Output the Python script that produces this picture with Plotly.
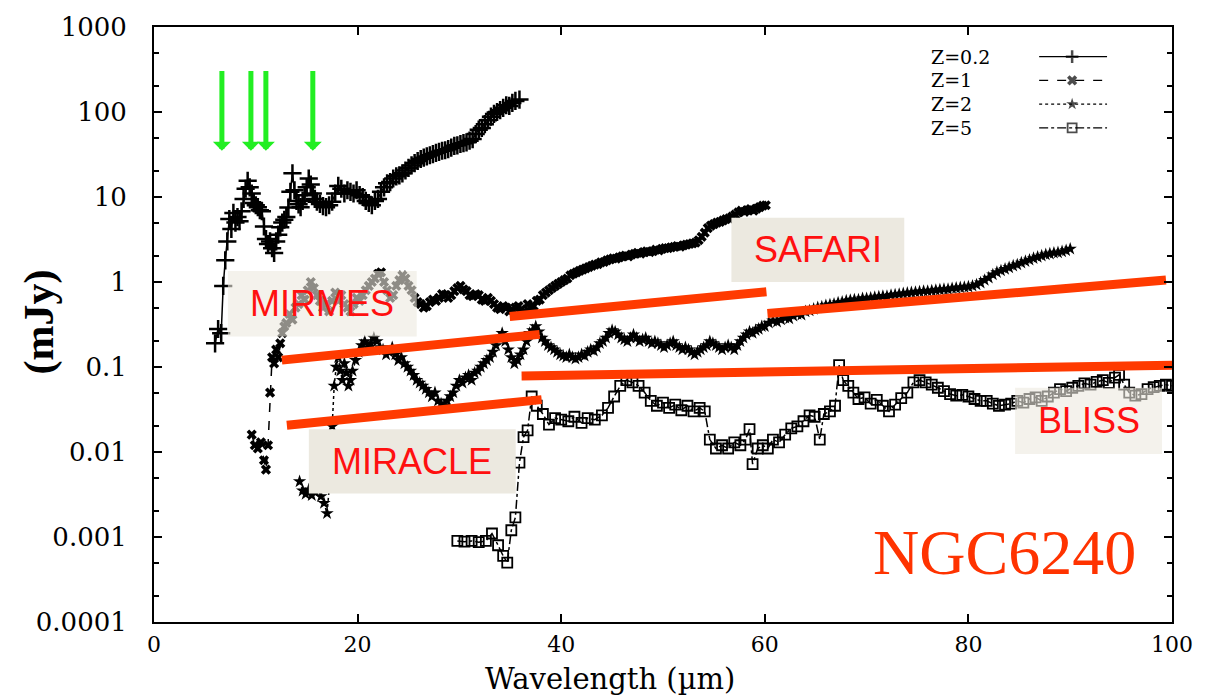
import math
import plotly.graph_objects as go

# ---------------------------------------------------------------------------
# NGC6240 spectrum redshifted to several z (flux density in mJy vs wavelength)
# ---------------------------------------------------------------------------
z02_wl = [6.0, 6.3, 6.6, 6.8, 7.0, 7.2, 7.4, 7.6, 7.8, 8.0, 8.2, 8.4, 8.6, 8.8, 9.0,
          9.2, 9.4, 9.6, 9.8, 10.0, 10.2, 10.4, 10.6, 10.8, 11.0, 11.2, 11.4, 11.6,
          11.8, 12.0, 12.2, 12.4, 12.6, 12.8, 13.0, 13.2, 13.4, 13.6, 13.8, 14.0,
          14.2, 14.4, 14.6, 14.8, 15.0, 15.2, 15.4, 15.6, 15.8, 16.0, 16.3, 16.6,
          16.9, 17.2, 17.5, 17.8, 18.1, 18.4, 18.7, 19.0, 19.3, 19.6, 19.9, 20.2,
          20.5, 20.8, 21.1, 21.4, 21.7, 22.0, 22.3, 22.6, 22.9, 23.2, 23.5, 23.8,
          24.1, 24.4, 24.7, 25.0, 25.3, 25.6, 25.9, 26.2, 26.5, 26.8, 27.1, 27.4,
          27.7, 28.0, 28.3, 28.6, 28.9, 29.2, 29.5, 29.8, 30.1, 30.4, 30.7, 31.0,
          31.3, 31.6, 31.9, 32.2, 32.5, 32.8, 33.1, 33.4, 33.7, 34.0, 34.3, 34.6,
          34.9, 35.2, 35.5, 35.9]
z02_flux = [0.19, 0.28, 0.25, 0.9, 1.8, 3.0, 5.5, 4.2, 6.5, 5.0, 5.8, 5.2, 6.8, 9.5,
            12.5, 15.5, 13.0, 11.0, 8.5, 8.0, 7.6, 7.0, 6.8, 4.5, 3.2, 2.8, 3.0, 2.5,
            2.2, 3.0, 3.6, 4.4, 5.0, 5.4, 5.8, 7.5, 11.5, 19.0, 12.0, 9.0, 8.2, 7.6,
            9.0, 10.5, 13.0, 16.5, 14.0, 11.0, 9.5, 8.8, 8.3, 7.8, 7.6, 8.0, 8.8,
            11.0, 13.5, 12.5, 11.0, 12.0, 11.5, 11.0, 12.0, 10.5, 10.0, 9.0, 8.5,
            8.0, 9.0, 9.5, 11.5, 13.0, 14.5, 15.0, 16.5, 17.5, 18.0, 19.0, 20.5,
            22.0, 23.5, 25.0, 26.5, 28.0, 29.0, 30.0, 31.0, 32.0, 33.0, 34.0, 35.0,
            35.5, 36.5, 38.0, 40.0, 40.5, 42.0, 43.0, 44.0, 46.0, 48.0, 55.0, 62.0,
            65.0, 72.0, 80.0, 88.0, 95.0, 100.0, 105.0, 112.0, 120.0, 118.0, 128.0,
            135.0, 140.0]

z1_wl = [9.6, 9.9, 10.2, 10.5, 10.8, 11.0, 11.2, 11.4, 11.6, 11.8, 12.0, 12.2, 12.4,
         12.6, 12.8, 13.0, 13.3, 13.6, 13.9, 14.2, 14.5, 14.8, 15.1, 15.4, 15.7, 16.0,
         16.3, 16.6, 16.9, 17.2, 17.5, 17.8, 18.1, 18.4, 18.7, 19.0, 19.3, 19.6, 19.9,
         20.2, 20.5, 20.8, 21.1, 21.4, 21.7, 22.0, 22.3, 22.6, 22.9, 23.2, 23.5, 23.8,
         24.1, 24.4, 24.7, 25.0, 25.3, 25.6, 25.9, 26.2, 26.5, 26.8, 27.1, 27.4, 27.7,
         28.0, 28.3, 28.6, 28.9, 29.2, 29.5, 29.8, 30.1, 30.4, 30.7, 31.0, 31.3, 31.6,
         31.9, 32.2, 32.5, 32.8, 33.1, 33.4, 33.7, 34.0, 34.3, 34.6, 34.9, 35.2, 35.5,
         35.8, 36.1, 36.4, 36.7, 37.0, 37.3, 37.6, 37.9, 38.2, 38.5, 38.8, 39.1, 39.4,
         39.7, 40.0, 40.3, 40.6, 40.9, 41.2, 41.5, 41.8, 42.1, 42.4, 42.7, 43.0, 43.3,
         43.6, 43.9, 44.2, 44.5, 44.8, 45.1, 45.4, 45.7, 46.0, 46.3, 46.6, 46.9, 47.2,
         47.5, 47.8, 48.1, 48.4, 48.7, 49.0, 49.3, 49.6, 49.9, 50.2, 50.5, 50.8, 51.1,
         51.4, 51.7, 52.0, 52.3, 52.6, 52.9, 53.2, 53.5, 53.8, 54.1, 54.4, 54.7, 55.0,
         55.3, 55.6, 55.9, 56.2, 56.5, 56.8, 57.1, 57.4, 57.7, 58.0, 58.3, 58.6, 58.9,
         59.2, 59.5, 59.8, 60.1]
z1_flux = [0.016, 0.012, 0.011, 0.013, 0.008, 0.0062, 0.012, 0.05, 0.13, 0.11, 0.16,
           0.13, 0.19, 0.25, 0.3, 0.33, 0.42, 0.36, 0.5, 0.55, 0.7, 0.62, 0.8, 1.0,
           0.85, 0.7, 0.6, 0.5, 0.55, 0.45, 0.6, 0.75, 0.6, 0.7, 0.55, 0.5, 0.45,
           0.55, 0.65, 0.6, 0.7, 0.8, 0.9, 1.0, 1.1, 1.25, 1.3, 1.0, 0.8, 0.65, 0.7,
           0.9, 1.05, 1.2, 1.1, 0.9, 0.8, 0.65, 0.58, 0.55, 0.5, 0.52, 0.58, 0.62,
           0.6, 0.65, 0.72, 0.7, 0.65, 0.7, 0.78, 0.85, 0.9, 0.82, 0.78, 0.7, 0.68,
           0.72, 0.7, 0.62, 0.6, 0.65, 0.6, 0.55, 0.5, 0.48, 0.52, 0.5, 0.45, 0.47,
           0.5, 0.52, 0.48, 0.45, 0.55, 0.5, 0.52, 0.6, 0.62, 0.7, 0.75, 0.8, 0.85,
           0.9, 0.95, 1.0, 1.05, 1.1, 1.2, 1.25, 1.3, 1.35, 1.4, 1.45, 1.5, 1.55,
           1.6, 1.62, 1.7, 1.72, 1.8, 1.85, 1.9, 1.88, 1.95, 2.0, 2.05, 2.0, 2.1,
           2.15, 2.2, 2.15, 2.25, 2.3, 2.25, 2.3, 2.4, 2.35, 2.45, 2.5, 2.5, 2.55,
           2.6, 2.65, 2.6, 2.7, 2.75, 2.8, 2.85, 2.9, 3.1, 3.4, 3.8, 4.3, 4.6, 4.8,
           5.0, 5.1, 5.3, 5.5, 5.6, 5.9, 6.2, 6.6, 6.9, 6.7, 7.0, 7.2, 6.9, 7.3, 7.6,
           7.9, 8.0]

z2_wl = [14.3, 14.6, 14.9, 15.2, 15.5, 15.8, 16.1, 16.4, 16.7, 17.0, 17.3, 17.5, 17.7,
         17.9, 18.1, 18.3, 18.5, 18.7, 18.9, 19.1, 19.3, 19.5, 19.8, 20.1, 20.4, 20.7,
         21.0, 21.3, 21.6, 21.9, 22.2, 22.5, 22.8, 23.1, 23.4, 23.7, 24.0, 24.3, 24.6,
         24.9, 25.2, 25.5, 25.8, 26.1, 26.4, 26.7, 27.0, 27.3, 27.6, 27.9, 28.2, 28.5,
         28.8, 29.1, 29.4, 29.7, 30.0, 30.3, 30.6, 30.9, 31.2, 31.5, 31.8, 32.1, 32.4,
         32.7, 33.0, 33.3, 33.6, 33.9, 34.2, 34.5, 34.8, 35.1, 35.4, 35.7, 36.0, 36.3,
         36.6, 36.9, 37.2, 37.5, 37.8, 38.1, 38.4, 38.7, 39.0, 39.3, 39.6, 39.9, 40.2,
         40.5, 40.8, 41.1, 41.4, 41.7, 42.0, 42.3, 42.6, 42.9, 43.2, 43.5, 43.8, 44.1,
         44.4, 44.7, 45.0, 45.3, 45.6, 45.9, 46.2, 46.5, 46.8, 47.1, 47.4, 47.7, 48.0,
         48.3, 48.6, 48.9, 49.2, 49.5, 49.8, 50.1, 50.4, 50.7, 51.0, 51.3, 51.6, 51.9,
         52.2, 52.5, 52.8, 53.1, 53.4, 53.7, 54.0, 54.3, 54.6, 54.9, 55.2, 55.5, 55.8,
         56.1, 56.4, 56.7, 57.0, 57.3, 57.6, 57.9, 58.2, 58.5, 58.8, 59.1, 59.4, 59.7,
         60.0, 60.4, 60.8, 61.2, 61.6, 62.0, 62.4, 62.8, 63.2, 63.6, 64.0, 64.4, 64.8,
         65.2, 65.6, 66.0, 66.4, 66.8, 67.2, 67.6, 68.0, 68.4, 68.8, 69.2, 69.6, 70.0,
         70.4, 70.8, 71.2, 71.6, 72.0, 72.4, 72.8, 73.2, 73.6, 74.0, 74.4, 74.8, 75.2,
         75.6, 76.0, 76.4, 76.8, 77.2, 77.6, 78.0, 78.4, 78.8, 79.2, 79.6, 80.0, 80.4,
         80.8, 81.2, 81.6, 82.0, 82.4, 82.8, 83.2, 83.6, 84.0, 84.4, 84.8, 85.2, 85.6,
         86.0, 86.4, 86.8, 87.2, 87.6, 88.0, 88.4, 88.8, 89.2, 89.6, 90.0]
z2_flux = [0.0045, 0.0035, 0.0032, 0.0036, 0.0031, 0.0034, 0.0036, 0.003, 0.0025,
           0.0019, 0.005, 0.02, 0.06, 0.1, 0.13, 0.09, 0.07, 0.11, 0.085, 0.06, 0.07,
           0.09, 0.12, 0.15, 0.18, 0.2, 0.17, 0.19, 0.22, 0.2, 0.17, 0.16, 0.14, 0.15,
           0.17, 0.14, 0.12, 0.13, 0.11, 0.1, 0.09, 0.08, 0.07, 0.065, 0.06, 0.055,
           0.05, 0.045, 0.05, 0.04, 0.037, 0.035, 0.04, 0.045, 0.05, 0.06, 0.07,
           0.065, 0.075, 0.08, 0.07, 0.085, 0.09, 0.1, 0.11, 0.12, 0.13, 0.15, 0.18,
           0.22, 0.25, 0.2, 0.16, 0.13, 0.11, 0.12, 0.14, 0.16, 0.2, 0.25, 0.27, 0.3,
           0.26, 0.22, 0.2, 0.18, 0.17, 0.16, 0.15, 0.14, 0.135, 0.13, 0.14, 0.13,
           0.125, 0.13, 0.14, 0.135, 0.15, 0.16, 0.155, 0.17, 0.19, 0.2, 0.22, 0.25,
           0.27, 0.26, 0.24, 0.22, 0.21, 0.2, 0.22, 0.24, 0.22, 0.2, 0.21, 0.22, 0.2,
           0.19, 0.2, 0.19, 0.18, 0.17, 0.18, 0.19, 0.2, 0.18, 0.17, 0.16, 0.17, 0.16,
           0.15, 0.14, 0.15, 0.16, 0.17, 0.18, 0.2, 0.19, 0.18, 0.17, 0.16, 0.17, 0.18,
           0.17, 0.16, 0.18, 0.2, 0.22, 0.24, 0.26, 0.25, 0.27, 0.28, 0.3, 0.3, 0.33,
           0.35, 0.34, 0.36, 0.38, 0.37, 0.4, 0.42, 0.41, 0.45, 0.46, 0.48, 0.5, 0.51,
           0.53, 0.54, 0.55, 0.57, 0.58, 0.6, 0.61, 0.62, 0.62, 0.64, 0.64, 0.65, 0.66,
           0.67, 0.68, 0.68, 0.7, 0.71, 0.72, 0.73, 0.74, 0.75, 0.76, 0.77, 0.78, 0.78,
           0.79, 0.8, 0.81, 0.82, 0.82, 0.84, 0.85, 0.86, 0.87, 0.88, 0.9, 0.93, 0.98,
           1.05, 1.12, 1.22, 1.3, 1.36, 1.42, 1.48, 1.55, 1.6, 1.68, 1.75, 1.82, 1.9,
           1.97, 2.03, 2.1, 2.15, 2.2, 2.22, 2.28, 2.35, 2.45]

z5_wl = [29.8, 30.5, 31.2, 31.9, 32.6, 33.2, 33.8, 34.3, 34.7, 35.1, 35.5, 35.9, 36.3,
         36.7, 37.1, 37.6, 38.2, 38.8, 39.4, 40.0, 40.7, 41.3, 42.0, 42.6, 43.3, 44.0,
         44.6, 45.2, 45.8, 46.4, 47.0, 47.6, 48.2, 48.8, 49.4, 50.0, 50.6, 51.2, 51.8,
         52.4, 53.0, 53.6, 54.1, 54.6, 55.2, 55.8, 56.4, 57.0, 57.6, 58.1, 58.5, 58.8,
         59.3, 59.8, 60.3, 60.8, 61.4, 62.0, 62.6, 63.2, 63.8, 64.4, 64.9, 65.4, 65.8,
         66.4, 66.9, 67.3, 67.7, 68.2, 68.7, 69.2, 69.8, 70.4, 71.0, 71.6, 72.2, 72.8,
         73.4, 74.0, 74.6, 75.2, 75.8, 76.4, 77.0, 77.6, 78.2, 78.8, 79.4, 80.0, 80.6,
         81.2, 81.8, 82.4, 83.0, 83.6, 84.2, 84.8, 85.4, 86.0, 86.6, 87.2, 87.8, 88.4,
         89.0, 89.6, 90.2, 90.8, 91.4, 92.0, 92.6, 93.2, 93.8, 94.4, 94.8, 95.3, 95.8,
         96.4, 97.0, 97.6, 98.2, 98.8, 99.4, 100.0]
z5_flux = [0.0009, 0.00088, 0.0009, 0.00087, 0.0009, 0.0011, 0.0008, 0.0006, 0.0005,
           0.0012, 0.0017, 0.0075, 0.015, 0.018, 0.045, 0.035, 0.028, 0.021, 0.025,
           0.024, 0.023, 0.026, 0.022, 0.025, 0.024, 0.027, 0.033, 0.045, 0.06, 0.07,
           0.066, 0.06, 0.05, 0.04, 0.035, 0.038, 0.033, 0.036, 0.031, 0.035, 0.03,
           0.033, 0.03, 0.014, 0.011, 0.012, 0.011, 0.013, 0.012, 0.014, 0.0186,
           0.0072, 0.011, 0.012, 0.011, 0.014, 0.013, 0.016, 0.019, 0.02, 0.023,
           0.027, 0.026, 0.014, 0.028, 0.03, 0.035, 0.105, 0.07, 0.06, 0.05, 0.042,
           0.044, 0.037, 0.041, 0.035, 0.03, 0.036, 0.043, 0.05, 0.066, 0.07, 0.066,
           0.062, 0.057, 0.052, 0.048, 0.046, 0.047, 0.045, 0.042, 0.04, 0.04, 0.037,
           0.035, 0.036, 0.037, 0.04, 0.038, 0.042, 0.044, 0.04, 0.045, 0.05, 0.055,
           0.052, 0.057, 0.06, 0.064, 0.062, 0.067, 0.07, 0.065, 0.075, 0.081, 0.062,
           0.05, 0.046, 0.048, 0.055, 0.058, 0.06, 0.062, 0.06]

# Instrument sensitivity limits (straight segments, mJy)
band_names = ["MIRMES", "MIRACLE", "SAFARI", "SAFARI", "BLISS"]
band_wl_start = [12.56, 13.05, 34.94, 60.26, 36.11]
band_wl_end = [37.88, 38.08, 60.16, 99.41, 100.88]
band_flux_start = [0.1205, 0.0206, 0.392, 0.425, 0.0785]
band_flux_end = [0.242, 0.0413, 0.766, 1.054, 0.1054]

# Instrument name labels (box extents in wavelength / flux)
label_names = ["MIRMES", "SAFARI", "MIRACLE", "BLISS"]
label_wl = [(7.26, 25.81), (56.72, 73.70), (15.21, 35.53), (84.59, 99.02)]
label_flux = [(0.229, 1.343), (1.0, 5.70), (0.00325, 0.0185), (0.00948, 0.0570)]
label_opacity = [0.6, 1.0, 1.0, 0.6]

# PAH features marked on the z=0.2 spectrum
pah_wl = [6.67, 9.52, 10.99, 15.6]

y_tick_vals = [1e-4, 1e-3, 1e-2, 1e-1, 1, 10, 100, 1000]
y_tick_text = ["0.0001", "0.001", "0.01", "0.1", "1", "10", "100", "1000"]
x_tick_vals = [0, 20, 40, 60, 80, 100]

RED_LINE = "#ff3a00"
RED_TEXT = "#ff1010"
BOX_FILL = "#ece9e0"
GREEN = "#22ee22"

fig = go.Figure()

series = [
    ("Z=0.2", z02_wl, z02_flux, "solid",
     dict(symbol="cross-thin", size=13, color="black", line=dict(width=2.5, color="black"))),
    ("Z=1", z1_wl, z1_flux, "dash",
     dict(symbol="x", size=9, color="black", line=dict(width=0))),
    ("Z=2", z2_wl, z2_flux, "dot",
     dict(symbol="star", size=10, color="black", line=dict(width=0))),
    ("Z=5", z5_wl, z5_flux, "dashdot",
     dict(symbol="square-open", size=10, color="black", line=dict(width=1.8, color="black"))),
]
for name, wl, flux, dash, marker in series:
    fig.add_trace(go.Scatter(
        x=wl, y=flux, name=name, mode="lines+markers",
        line=dict(color="black", width=1.5, dash=dash),
        marker=marker, showlegend=False, hoverinfo="skip"))

# Sensitivity segments
for i in range(len(band_names)):
    fig.add_trace(go.Scatter(
        x=[band_wl_start[i], band_wl_end[i]],
        y=[band_flux_start[i], band_flux_end[i]],
        mode="lines", line=dict(color=RED_LINE, width=9),
        showlegend=False, hoverinfo="skip", cliponaxis=False))

# Key (text on the left, line sample on the right)
key_flux = [447.7, 235.5, 123.9, 65.2]
key_wl = (86.95, 90.19, 93.62)
for (name, wl, flux, dash, marker), yk in zip(series, key_flux):
    m = dict(marker)
    m["size"] = [0, min(marker["size"], 9), 0]
    fig.add_trace(go.Scatter(
        x=list(key_wl), y=[yk, yk, yk], mode="lines+markers",
        line=dict(color="black", width=1.3, dash=dash), marker=m,
        showlegend=False, hoverinfo="skip"))

annotations = []
for (name, *_), yk in zip(series, key_flux):
    annotations.append(dict(
        x=76.15, y=math.log10(yk), xref="x", yref="y", text=name,
        showarrow=False, xanchor="left", yanchor="middle",
        font=dict(family="DejaVu Serif", size=19, color="black")))

shapes = []
for name, (w0, w1), (f0, f1), op in zip(label_names, label_wl, label_flux, label_opacity):
    shapes.append(dict(type="rect", xref="x", yref="y", x0=w0, x1=w1, y0=f0, y1=f1,
                       fillcolor=BOX_FILL, line=dict(width=0), opacity=op, layer="above"))
    annotations.append(dict(
        x=(w0 + w1) / 2, y=(math.log10(f0) + math.log10(f1)) / 2, xref="x", yref="y",
        text=name, showarrow=False, xanchor="center", yanchor="middle",
        font=dict(family="Liberation Sans", size=36, color=RED_TEXT)))

for wl in pah_wl:
    annotations.append(dict(
        x=wl, y=math.log10(35.0), xref="x", yref="y", ax=wl, ay=math.log10(316),
        axref="x", ayref="y", text="", showarrow=True, arrowhead=1, arrowsize=0.6,
        arrowwidth=5, arrowcolor=GREEN, standoff=0, startstandoff=0))

annotations.append(dict(
    x=83.5, y=-3.186, xref="x", yref="y", text="NGC6240", showarrow=False,
    xanchor="center", yanchor="middle",
    font=dict(family="Liberation Serif", size=64, color="#ff3300")))

annotations.append(dict(
    x=-0.112, y=0.505, xref="paper", yref="paper", text="(mJy)", textangle=-90,
    showarrow=False, xanchor="center", yanchor="middle",
    font=dict(family="Liberation Serif", size=42, color="black", weight="bold")))

annotations.append(dict(
    x=0.4475, y=-0.128, xref="paper", yref="paper", text="Wavelength (\u00b5m)",
    showarrow=False, xanchor="center", yanchor="bottom",
    font=dict(family="DejaVu Serif", size=29, color="black")))

minor_vals = [m * 10.0 ** k for k in range(-4, 3) for m in (2, 5)]

fig.update_layout(
    width=1205, height=699,
    margin=dict(l=154, r=32, t=20, b=77),
    paper_bgcolor="white", plot_bgcolor="white",
    shapes=shapes, annotations=annotations, showlegend=False,
    xaxis=dict(range=[0, 100], tickvals=x_tick_vals, ticks="inside", ticklen=8,
               tickwidth=2, tickcolor="black", showline=True, linewidth=2,
               linecolor="black", mirror="ticks", showgrid=False, zeroline=False,
               ticklabelstandoff=2,
               tickfont=dict(family="DejaVu Serif", size=22, color="black")),
    yaxis=dict(type="log", range=[-4, 3], tickvals=y_tick_vals, ticktext=y_tick_text,
               ticks="inside", ticklen=8, tickwidth=2, tickcolor="black",
               showline=True, linewidth=2, linecolor="black", mirror="ticks",
               showgrid=False, zeroline=False, ticklabelstandoff=20,
               minor=dict(tickvals=minor_vals, ticks="inside", ticklen=5,
                          tickwidth=1.5, tickcolor="black", showgrid=False),
               tickfont=dict(family="DejaVu Serif", size=26, color="black")),
)

fig.write_html("out.html")
